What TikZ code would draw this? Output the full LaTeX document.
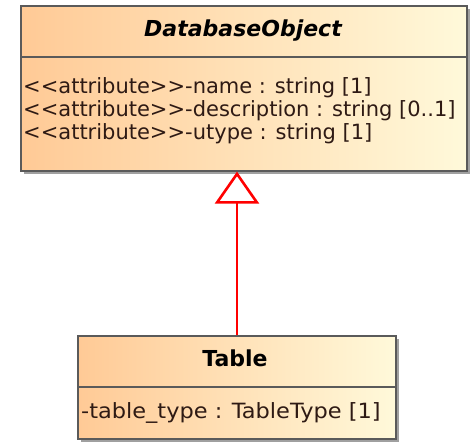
\documentclass[tikz,border=0pt]{standalone}
\usepackage{fontspec}
\setmainfont[Ligatures=TeXOff]{DejaVu Sans}
\usetikzlibrary{arrows.meta,shadows}

\definecolor{boxleft}{HTML}{FFCA96}
\definecolor{boxright}{HTML}{FFF9DA}
\definecolor{boxline}{HTML}{5A5A5A}
\definecolor{txt}{HTML}{2E1A14}
\definecolor{shadowgray}{HTML}{A0A0A0}
\definecolor{genred}{HTML}{FF0000}

\tikzset{
  classbox/.style={draw=boxline, line width=1.6pt, left color=boxleft,
    right color=boxright, inner sep=0pt, anchor=north west,
    drop shadow={shadow xshift=3pt, shadow yshift=-3pt,
      fill=shadowgray, opacity=1}},
  divider/.style={draw=boxline, line width=1.4pt},
  classname/.style={inner sep=0pt, anchor=base, text=black,
    font=\fontsize{22}{24}\selectfont\bfseries},
  attr/.style={inner sep=0pt, anchor=base west, text=txt,
    font=\fontsize{21}{24}\selectfont},
  generalization/.style={draw=genred, line width=2.6pt,
    -{Triangle[open, fill=white, length=32pt, width=44pt]}},
}

\begin{document}
\begin{tikzpicture}[x=1pt, y=-1pt]
  \useasboundingbox (0,0) rectangle (470,442);

  % abstract superclass
  \node[classbox, minimum width=446pt, minimum height=165pt] (dbo) at (20,5) {};
  \draw[divider] ([yshift=-52pt]dbo.north west) -- ([yshift=-52pt]dbo.north east);
  \node[classname, font=\fontsize{22}{24}\selectfont\bfseries\itshape] (dboname) at (243,36) {DatabaseObject};
  \node[attr] (attrname) at (23,93) {<<attribute>>-name : string [1]};
  \node[attr] (attrdesc) at (23,116) {<<attribute>>-description : string [0..1]};
  \node[attr] (attrutype) at (23,139) {<<attribute>>-utype : string [1]};

  % concrete subclass
  \node[classbox, minimum width=318pt, minimum height=103pt] (tbl) at (77,335) {};
  \draw[divider] ([yshift=-52pt]tbl.north west) -- ([yshift=-52pt]tbl.north east);
  \node[classname] (tblname) at (235,366) {Table};
  \node[attr] (attrtype) at (81,418) {\scalebox{1.07}[1]{-table\_type : TableType [1]}};

  % generalization
  \draw[generalization] (tbl.north -| 237,0) -- (dbo.south -| 237,0);
\end{tikzpicture}
\end{document}
